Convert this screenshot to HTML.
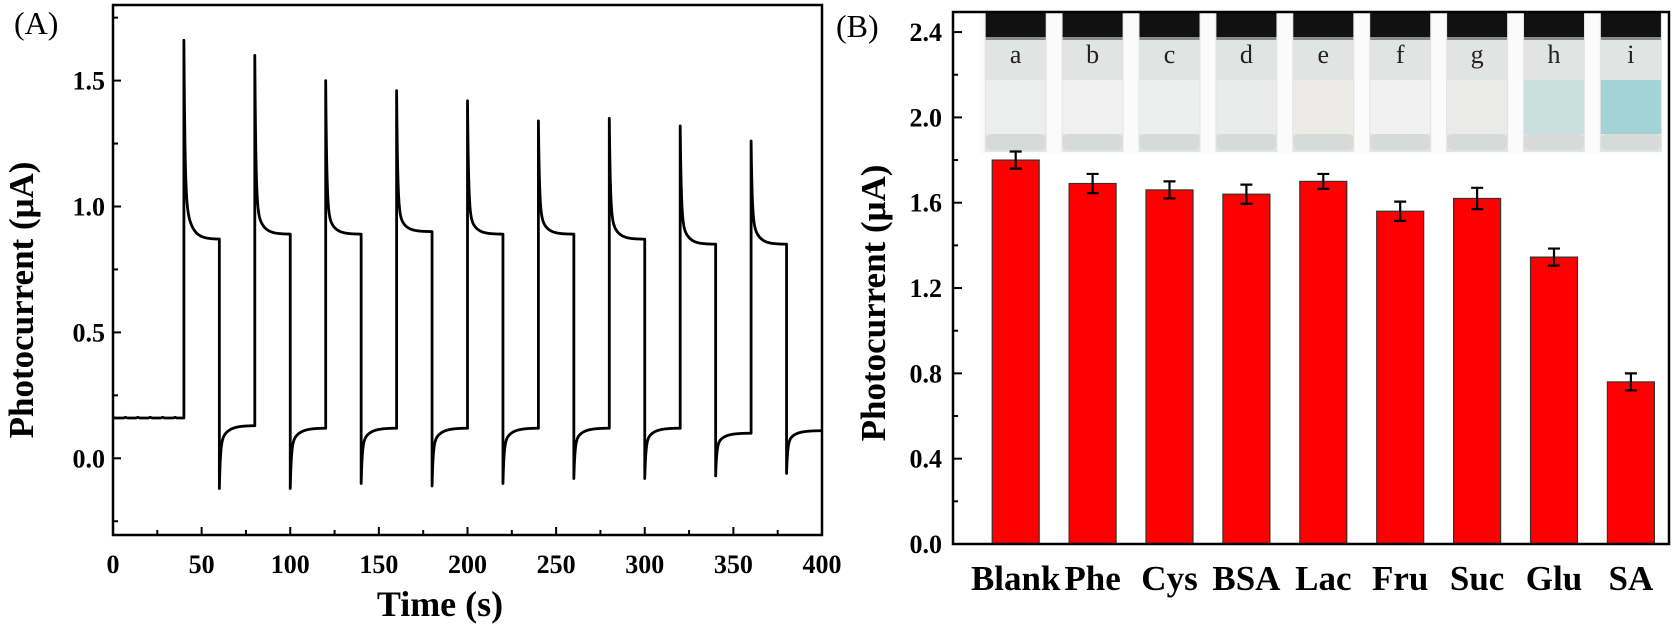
<!DOCTYPE html>
<html><head><meta charset="utf-8"><style>
html,body{margin:0;padding:0;background:#fff;}
svg{display:block;font-family:"Liberation Serif",serif;font-weight:bold;}
</style></head><body>
<svg id="fig" width="1673" height="626" viewBox="0 0 1673 626">
<g id="panelA"></g>
<g id="panelB"></g>
</svg>
<script>
// ---- Panel A data ----
const onTimes = [40, 80, 120, 160, 200, 240, 280, 320, 360];
const peakVals = [1.66, 1.60, 1.50, 1.46, 1.42, 1.34, 1.35, 1.32, 1.26];
const kneeVals = [1.06, 1.02, 1.00, 1.00, 0.99, 0.99, 0.98, 0.96, 0.96];
const onEndVals = [0.87, 0.89, 0.89, 0.90, 0.89, 0.89, 0.87, 0.85, 0.85];
const dipVals = [-0.12, -0.12, -0.10, -0.11, -0.10, -0.08, -0.08, -0.07, -0.06];
const darkEndVals = [0.13, 0.12, 0.12, 0.12, 0.12, 0.12, 0.12, 0.10, 0.11];
const initialDark = 0.16;
const xTicksA = [0, 50, 100, 150, 200, 250, 300, 350, 400];
const yTicksA = [0.0, 0.5, 1.0, 1.5];
// ---- Panel B data ----
const categories = ["Blank", "Phe", "Cys", "BSA", "Lac", "Fru", "Suc", "Glu", "SA"];
const barVals = [1.80, 1.69, 1.66, 1.64, 1.70, 1.56, 1.62, 1.345, 0.76];
const errVals = [0.04, 0.045, 0.04, 0.045, 0.035, 0.045, 0.05, 0.04, 0.04];
const vialLabels = ["a", "b", "c", "d", "e", "f", "g", "h", "i"];
const yTicksB = [0.0, 0.4, 0.8, 1.2, 1.6, 2.0, 2.4];

const NS = "http://www.w3.org/2000/svg";
function mk(parent, tag, attrs, text) {
  const e = document.createElementNS(NS, tag);
  for (const k in attrs) e.setAttribute(k, attrs[k]);
  if (text !== undefined) e.textContent = text;
  parent.appendChild(e);
  return e;
}

// ===== Panel A =====
const A = document.getElementById("panelA");
const aL = 113, aR = 822, aT = 5, aB = 535;
const xA = t => aL + (t - 0) / 400 * (aR - aL);
const yA = v => 458.3 - v * 251.8;

let pts = [];
function add(t, v) { pts.push(xA(t).toFixed(2) + "," + yA(v).toFixed(2)); }
for (let t = 0; t <= 40; t += 1) add(t, initialDark + (t % 7 === 0 ? 0.003 : 0));
for (let i = 0; i < onTimes.length; i++) {
  const t0 = onTimes[i];
  add(t0, peakVals[i]);
  for (let s = 0.2; s <= 20; s += 0.2) {
    const fast = Math.exp(-s / 0.6);
    const slow = Math.exp(-s / 3.5);
    const v = onEndVals[i] + (kneeVals[i] - onEndVals[i]) * slow + (peakVals[i] - kneeVals[i]) * fast;
    add(t0 + s, v);
  }
  const t1 = t0 + 20;
  add(t1, dipVals[i]);
  for (let s = 0.2; s <= 20; s += 0.2) {
    const v = darkEndVals[i] + (dipVals[i] - darkEndVals[i]) * (0.7 * Math.exp(-s / 0.6) + 0.3 * Math.exp(-s / 4));
    add(t1 + s, v);
  }
}
const curve = mk(A, "polyline", {points: pts.join(" "), fill: "none", stroke: "#000", "stroke-width": 2.8, "stroke-linejoin": "round"});



const frameA = mk(A, "rect", {x: aL, y: aT, width: aR - aL, height: aB - aT, fill: "none", stroke: "#000", "stroke-width": 2.5});



for (let t = 0; t <= 400; t += 25) {
  if (t === 0 || t === 400) continue;
  const tk = mk(A, "line", {x1: xA(t), x2: xA(t), y1: aB, y2: aB - (t % 50 === 0 ? 8 : 5), stroke: "#000", "stroke-width": 2});
  
  
}
xTicksA.forEach(t => {
  const lb = mk(A, "text", {x: xA(t), y: 573, "font-size": 26, "text-anchor": "middle"}, String(t));
  
  
});
for (let v = -0.25; v <= 1.76; v += 0.25) {
  const major = Math.abs(v * 2 - Math.round(v * 2)) < 1e-6;
  const tk = mk(A, "line", {x1: aL, x2: aL + (major ? 8 : 5), y1: yA(v), y2: yA(v), stroke: "#000", "stroke-width": 2});
  
  
}
yTicksA.forEach(v => {
  const lb = mk(A, "text", {x: 105, y: yA(v) + 9, "font-size": 26, "text-anchor": "end"}, v.toFixed(1));
  
  
});
const xtA = mk(A, "text", {x: 440, y: 616, "font-size": 36, "text-anchor": "middle"}, "Time (s)");


const ytA = mk(A, "text", {x: 0, y: 0, "font-size": 35, "text-anchor": "middle", transform: "translate(33,300) rotate(-90)"}, "Photocurrent (\u03bcA)");


const plA = mk(A, "text", {x: 14, y: 34, "font-size": 32, "font-weight": "normal"}, "(A)");



// ===== Panel B =====
const B = document.getElementById("panelB");
const bL = 953, bR = 1669, bT = 12, bB = 544;
const yB = v => bB - v * 213.3;
const step = 76.9, c0 = 1015.7, bw = 47;
const xB = i => c0 + i * step;

const photoBg = mk(B, "rect", {x: 980, y: 10, width: 680, height: 144, fill: "#fbfbfb"});


const liquidColors = ["#eceeed", "#eff0ef", "#edefee", "#eaecec", "#ecebe7", "#f1f1f1", "#eaebe9", "#c9e0dc", "#a3d3d5"];
vialLabels.forEach((l, i) => {
  const cx = xB(i);
  const g = mk(B, "g", {});
  
  
  mk(g, "rect", {x: cx - 31, y: 12, width: 62, height: 140, fill: "#e2e4e3"});
  mk(g, "rect", {x: cx - 30, y: 12, width: 60, height: 25, fill: "#111"});
  mk(g, "rect", {x: cx - 30, y: 37, width: 60, height: 3, fill: "#8a8c8c"});
  mk(g, "rect", {x: cx - 30, y: 80, width: 60, height: 54, fill: liquidColors[i]});
  mk(g, "rect", {x: cx - 30, y: 134, width: 60, height: 16, fill: "#d8dad9", rx: 6});
  mk(g, "text", {x: cx, y: 63, "font-size": 26, "font-weight": "normal", "text-anchor": "middle", fill: "#222"}, l);
});

categories.forEach((c, i) => {
  const bar = mk(B, "rect", {x: xB(i) - bw / 2, y: yB(barVals[i]), width: bw, height: bB - yB(barVals[i]), fill: "#ff0000", stroke: "#333", "stroke-width": 1.2});
  
  
  const e = errVals[i], v = barVals[i], cx = xB(i);
  const eb = mk(B, "path", {d: `M${cx},${yB(v + e)}V${yB(v - e)}M${cx - 6},${yB(v + e)}H${cx + 6}M${cx - 6},${yB(v - e)}H${cx + 6}`, stroke: "#000", "stroke-width": 2.2, fill: "none"});
  
  
  const lb = mk(B, "text", {x: cx, y: 590, "font-size": 35, "text-anchor": "middle"}, c);
  
  
});

const frameB = mk(B, "rect", {x: bL, y: bT, width: bR - bL, height: bB - bT, fill: "none", stroke: "#000", "stroke-width": 2.5});


for (let v = 0.2; v <= 2.41; v += 0.2) {
  const major = Math.round(v * 10) % 4 === 0;
  const tk = mk(B, "line", {x1: bL, x2: bL + (major ? 9 : 5), y1: yB(v), y2: yB(v), stroke: "#000", "stroke-width": 2});
  
  
}
yTicksB.forEach(v => {
  const lb = mk(B, "text", {x: 942, y: yB(v) + 9, "font-size": 26, "text-anchor": "end"}, v.toFixed(1));
  
  
});
const ytB = mk(B, "text", {x: 0, y: 0, "font-size": 35, "text-anchor": "middle", transform: "translate(885,303) rotate(-90)"}, "Photocurrent (\u03bcA)");


const plB = mk(B, "text", {x: 836, y: 37, "font-size": 32, "font-weight": "normal"}, "(B)");


</script>
</body></html>
